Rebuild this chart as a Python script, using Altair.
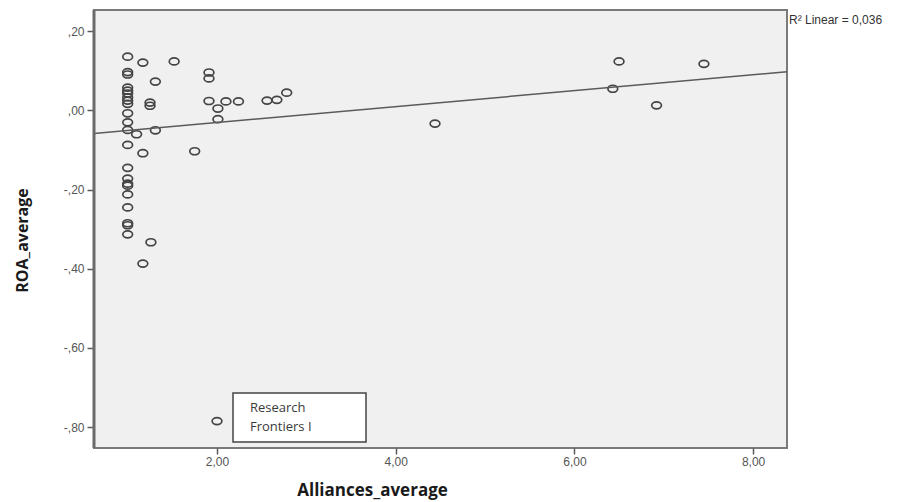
import altair as alt
import pandas as pd

# Firm-level averages: alliances per year vs. return on assets
alliances = [
    1.0, 1.0, 1.0, 1.0, 1.0, 1.0, 1.0, 1.0, 1.0, 1.0, 1.0,
    1.0, 1.0, 1.0, 1.0, 1.0, 1.0, 1.0, 1.0, 1.0, 1.0, 1.0,
    1.17, 1.52, 1.31, 1.25, 1.25, 1.31, 1.10, 1.17, 1.75,
    1.91, 1.91, 1.91, 2.01, 2.10, 2.24, 2.01, 2.56, 2.67, 2.78,
    4.44, 6.50, 6.43, 6.92, 7.45, 1.26, 1.17, 2.00,
]
roa = [
    0.136, 0.097, 0.091, 0.058, 0.050, 0.043, 0.033, 0.025, 0.017, -0.007, -0.030,
    -0.049, -0.087, -0.145, -0.172, -0.185, -0.190, -0.212, -0.245, -0.285, -0.290, -0.313,
    0.121, 0.124, 0.073, 0.020, 0.012, -0.050, -0.060, -0.108, -0.103,
    0.096, 0.081, 0.024, 0.005, 0.023, 0.023, -0.022, 0.025, 0.027, 0.045,
    -0.033, 0.124, 0.055, 0.013, 0.118, -0.333, -0.387, -0.785,
]
x_ticks = [2, 4, 6, 8]
y_ticks = [0.2, 0.0, -0.2, -0.4, -0.6, -0.8]
x_domain = [0.623, 8.38]
y_domain = [-0.853, 0.254]

# Linear fit reported with the chart
fit_intercept = -0.0705
fit_slope = 0.0201
fit_label = "R² Linear = 0,036"
note_lines = ["Research", "Frontiers I"]

df = pd.DataFrame({"Alliances_average": alliances, "ROA_average": roa})
fit_df = pd.DataFrame({"Alliances_average": x_domain})

W, H = 693, 438
GREY = "#5a5a5a"

# flattened open ellipse used as the point symbol
ELLIPSE = "M -1 0 A 1 0.72 0 1 0 1 0 A 1 0.72 0 1 0 -1 0 Z"

x_enc = alt.X(
    "Alliances_average:Q",
    scale=alt.Scale(domain=x_domain, nice=False, zero=False),
    axis=alt.Axis(
        values=x_ticks, grid=False, domain=False,
        labelExpr="replace(format(datum.value, '.2f'), '.', ',')",
        labelFont="Liberation Sans", labelFontSize=12, labelColor="#555555",
        tickColor=GREY, tickSize=6, tickWidth=1.5, labelPadding=2,
        title="Alliances_average", titleFont="Open Sans", titleFontSize=17,
        titleFontWeight="bold", titleColor="#1a1a1a",
        titleX=278, titleY=42, titleBaseline="middle", titleAnchor="middle",
    ),
)
y_enc = alt.Y(
    "ROA_average:Q",
    scale=alt.Scale(domain=y_domain, nice=False, zero=False),
    axis=alt.Axis(
        values=y_ticks, grid=False, domain=False,
        labelExpr="(datum.value < 0 ? '-' : '') + ',' + format(abs(datum.value) * 100, '02.0f')",
        labelFont="Liberation Sans", labelFontSize=12, labelColor="#555555",
        tickColor=GREY, tickSize=7, tickWidth=1.5, labelPadding=3,
        title="ROA_average", titleFont="Open Sans", titleFontSize=16,
        titleFontWeight="bold", titleColor="#1a1a1a",
        titleX=-72, titleY=230, titleBaseline="middle", titleAnchor="middle",
    ),
)

points = alt.Chart(df).mark_point(
    shape=ELLIPSE, filled=False, size=95, strokeWidth=1.7, color="#444444", opacity=1
).encode(x=x_enc, y=y_enc)

fit = alt.Chart(fit_df).transform_calculate(
    ROA_average=f"{fit_intercept} + {fit_slope} * datum.Alliances_average"
).mark_line(color=GREY, strokeWidth=1.5).encode(
    x="Alliances_average:Q", y="ROA_average:Q"
)

# heavier left spine
spine = alt.Chart(pd.DataFrame({"k": [0]})).mark_rule(
    color="#6a6a6a", strokeWidth=3
).encode(x=alt.value(0), y=alt.value(0), y2=alt.value(H))

label = alt.Chart(pd.DataFrame({"t": [fit_label]})).mark_text(
    align="left", baseline="middle", font="Liberation Sans", fontSize=12,
    color="#333333", clip=False
).encode(text="t:N", x=alt.value(W + 2), y=alt.value(10))

note_box = alt.Chart(pd.DataFrame({"k": [0]})).mark_rect(
    fill="white", stroke="#444444", strokeWidth=1.5
).encode(x=alt.value(139), x2=alt.value(272), y=alt.value(383), y2=alt.value(432))

note_text = alt.Chart(pd.DataFrame({"t": [note_lines]})).mark_text(
    align="left", baseline="middle", font="Open Sans", fontSize=13,
    color="#3a3a3a", lineHeight=19
).encode(text="t", x=alt.value(156), y=alt.value(398))

chart = alt.layer(points, fit, spine, note_box, note_text, label).properties(
    width=W, height=H,
    background="white",
    autosize=alt.AutoSizeParams(type="none"),
    padding={"left": 94, "top": 10, "right": 128, "bottom": 54},
).configure_view(
    fill="#f0f0f0", stroke="#7a7a7a", strokeWidth=2
)

chart.save("out.html", embed_options={"renderer": "svg", "actions": False})
